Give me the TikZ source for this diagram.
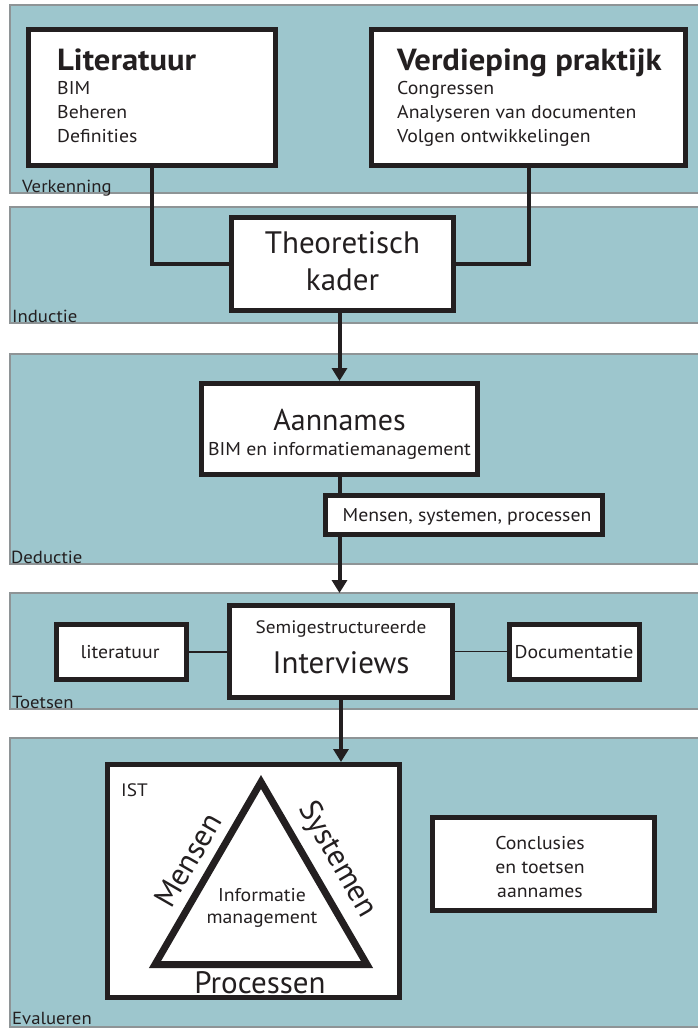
\documentclass[tikz,border=0pt]{standalone}
\usepackage{fontspec}
\setmainfont{PT Sans}
\newfontfamily\wf{PT Sans}[FakeStretch=1.07]
\usetikzlibrary{arrows.meta}
\definecolor{bandfill}{HTML}{9DC6CD}
\definecolor{bandline}{HTML}{8E9496}
\definecolor{ink}{HTML}{231F20}
\newcommand{\fs}[2]{\fontsize{#1}{#2}\selectfont}
\begin{document}
\begin{tikzpicture}[x=1pt,y=-1pt,
  band/.style={fill=bandfill, draw=bandline, line width=1.5pt},
  bandlabel/.style={anchor=base west, inner sep=0pt, text=ink, font=\wf\fs{17.5}{19}},
  box/.style={draw=ink, fill=white, line width=5pt, inner sep=0pt, text=ink},
  thickconn/.style={draw=ink, line width=4pt},
  arrowconn/.style={draw=ink, line width=4pt, -{Triangle[length=13pt,width=15pt]}},
  thinconn/.style={draw=ink, line width=1.2pt},
  txt/.style={inner sep=0pt, text=ink},
  small/.style={txt, font=\wf\fs{18.5}{22}}
]
\useasboundingbox (0,0) rectangle (697,1028);
\fill[white] (0,0) rectangle (697,1028);
% bands
\path[band] (10,5) rectangle (705,193);
\path[band] (10,207) rectangle (705,323);
\path[band] (10,354) rectangle (705,564);
\path[band] (10,593) rectangle (705,709);
\path[band] (10,738) rectangle (705,1027);
\node[bandlabel] (lblverk) at (22,192) {Verkenning};
\node[bandlabel] (lblind) at (12,322) {Inductie};
\node[bandlabel] (lblded) at (11,563) {Deductie};
\node[bandlabel] (lbltoe) at (12,708) {Toetsen};
\node[bandlabel] (lbleva) at (12,1024) {Evalueren};

% top boxes
\node[box, minimum width=247pt, minimum height=136pt] (lit) at (152,97.5) {};
\node[box, minimum width=314pt, minimum height=136pt] (ver) at (528.5,97.5) {};
\node[txt, anchor=base west] (littitle) at (57,70) {\wf\fs{30.5}{32}\bfseries Literatuur};
\node[small, anchor=base west] (litsub) at (57,94) {BIM};
\node[small, anchor=base west] (litsub2) at (57,118) {Beheren};
\node[small, anchor=base west] (litsub3) at (57,142) {Definities};
\node[txt, anchor=base west] (vertitle) at (397,70) {\wf\fs{30.5}{32}\bfseries Verdieping praktijk};
\node[small, anchor=base west] (versub) at (397,94) {Congressen};
\node[small, anchor=base west] (versub2) at (397,118) {Analyseren van documenten};
\node[small, anchor=base west] (versub3) at (397,142) {Volgen ontwikkelingen};

% theoretisch kader
\node[box, minimum width=222pt, minimum height=93pt] (theo) at (342.5,264) {};
\node[txt, anchor=base] (theo1) at (342.5,253) {\fs{31}{37}Theoretisch};
\node[txt, anchor=base] (theo2) at (342.5,290) {\fs{31}{37}kader};
\draw[thickconn] (lit.south) |- (theo.west);
\draw[thickconn] (ver.south) |- (theo.east);

% aannames
\node[box, minimum width=276pt, minimum height=91pt] (aan) at (339.5,429) {};
\node[txt, anchor=base] (aan1) at (339.5,430) {\fs{30}{32}Aannames};
\node[small, anchor=base] (aan2) at (339.5,455) {BIM en informatiemanagement};
\draw[arrowconn] (theo.south -| aan.north) -- (aan.north);

\node[box, minimum width=277pt, minimum height=39pt] (mens) at (464,515) {};
\node[small, anchor=base] (mens1) at (467,521) {Mensen, systemen, processen};
\draw[thickconn] (aan.south) -- (aan.south |- mens.north);
\coordinate (arrend) at (339.5,593);
\draw[arrowconn] (aan.south |- mens.south) -- (arrend);

% toetsen
\node[box, minimum width=223pt, minimum height=92pt] (int) at (341,651.5) {};
\node[txt, anchor=base, font=\wf\fs{18}{20}] (int1) at (341,633) {Semigestructureerde};
\node[txt, anchor=base] (int2) at (341,673) {\fs{31}{33}Interviews};
\node[box, minimum width=130pt, minimum height=55pt] (lit2) at (121.5,652) {};
\node[small, anchor=base] (lit2t) at (120,658) {literatuur};
\node[box, minimum width=130pt, minimum height=55pt] (doc) at (574.5,652) {};
\node[small, anchor=base] (doct) at (574,658) {Documentatie};
\draw[thinconn] (lit2.east) -- (lit2.east -| int.west);
\draw[thinconn] (int.east) -- (int.east -| doc.west);

% evalueren
\node[box, minimum width=292pt, minimum height=233pt] (ist) at (253.5,881) {};
\draw[arrowconn] (int.south) -- (int.south |- ist.north);
\node[txt, anchor=base west, font=\wf\fs{18}{20}] (istl) at (121,796) {IST};
\coordinate (tA) at (261,782);
\coordinate (tB) at (155,964.5);
\coordinate (tC) at (367,964.5);
\draw[draw=ink, line width=7pt, line join=miter] (tA) -- (tB) -- (tC) -- cycle;
\node[txt, rotate=60] (mensen) at (188,860) {\fs{31}{33}Mensen};
\node[txt, rotate=-60] (syst) at (337,860) {\fs{31}{33}Systemen};
\node[txt, anchor=base] (proc) at (260,993) {\fs{31}{33}Processen};
\node[small, anchor=base] (inf1) at (262,901) {Informatie};
\node[small, anchor=base] (inf2) at (262,923) {management};

\node[box, minimum width=222pt, minimum height=93pt] (concl) at (543.5,864) {};
\node[small, anchor=base] (c1) at (540,849) {Conclusies};
\node[small, anchor=base] (c2) at (540,873) {en toetsen};
\node[small, anchor=base] (c3) at (540,897) {aannames};
\end{tikzpicture}
\end{document}
